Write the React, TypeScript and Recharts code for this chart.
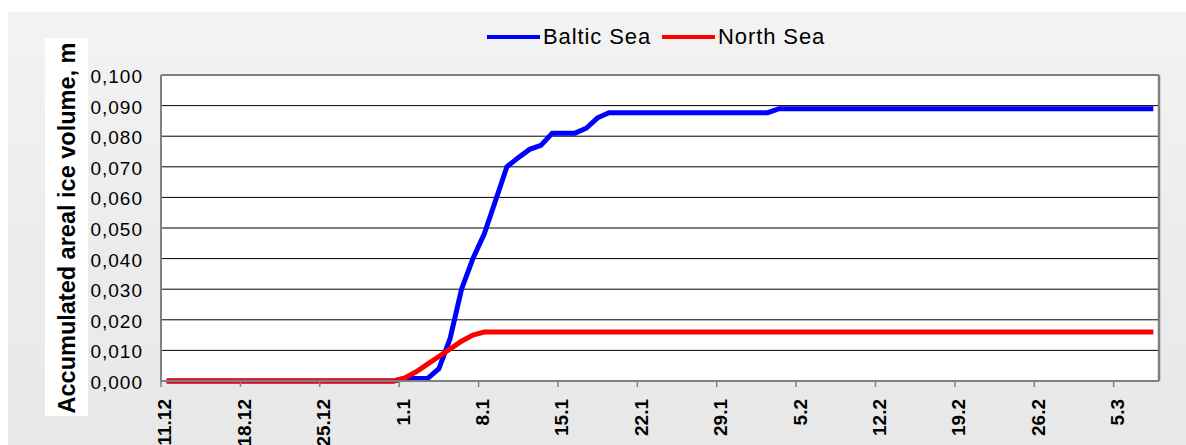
import React from "react"
import {
  LineChart,
  Line,
  XAxis,
  YAxis,
  CartesianGrid,
  ReferenceLine,
} from "recharts"

// one category per day, 11.12 .. 8.3
const dates = [
  "11.12", "12.12", "13.12", "14.12", "15.12", "16.12", "17.12", "18.12", "19.12", "20.12",
  "21.12", "22.12", "23.12", "24.12", "25.12", "26.12", "27.12", "28.12", "29.12", "30.12", "31.12",
  "1.1", "2.1", "3.1", "4.1", "5.1", "6.1", "7.1", "8.1", "9.1", "10.1",
  "11.1", "12.1", "13.1", "14.1", "15.1", "16.1", "17.1", "18.1", "19.1", "20.1",
  "21.1", "22.1", "23.1", "24.1", "25.1", "26.1", "27.1", "28.1", "29.1", "30.1", "31.1",
  "1.2", "2.2", "3.2", "4.2", "5.2", "6.2", "7.2", "8.2", "9.2", "10.2",
  "11.2", "12.2", "13.2", "14.2", "15.2", "16.2", "17.2", "18.2", "19.2", "20.2",
  "21.2", "22.2", "23.2", "24.2", "25.2", "26.2", "27.2", "28.2",
  "1.3", "2.3", "3.3", "4.3", "5.3", "6.3", "7.3", "8.3",
]

const baltic = [
  0, 0, 0, 0, 0, 0, 0, 0, 0, 0, 0, 0, 0, 0, 0, 0, 0, 0, 0, 0, 0,
  0.0008, 0.0008, 0.0008, 0.004, 0.014, 0.03, 0.04, 0.048, 0.059, 0.07,
  0.073, 0.0757, 0.077, 0.081, 0.081, 0.081, 0.0826, 0.086, 0.0877,
  0.0877, 0.0877, 0.0877, 0.0877, 0.0877, 0.0877, 0.0877, 0.0877, 0.0877, 0.0877,
  0.0877, 0.0877, 0.0877, 0.0877,
  0.089, 0.089, 0.089, 0.089, 0.089, 0.089, 0.089, 0.089, 0.089, 0.089,
  0.089, 0.089, 0.089, 0.089, 0.089, 0.089, 0.089, 0.089, 0.089, 0.089,
  0.089, 0.089, 0.089, 0.089, 0.089, 0.089, 0.089, 0.089, 0.089, 0.089,
  0.089, 0.089, 0.089, 0.089,
]

const north = [
  0, 0, 0, 0, 0, 0, 0, 0, 0, 0, 0, 0, 0, 0, 0, 0, 0, 0, 0, 0, 0,
  0.001, 0.003, 0.0055, 0.008, 0.0105, 0.013, 0.015,
  0.016, 0.016, 0.016, 0.016, 0.016, 0.016, 0.016, 0.016, 0.016, 0.016,
  0.016, 0.016, 0.016, 0.016, 0.016, 0.016, 0.016, 0.016, 0.016, 0.016,
  0.016, 0.016, 0.016, 0.016, 0.016, 0.016, 0.016, 0.016, 0.016, 0.016,
  0.016, 0.016, 0.016, 0.016, 0.016, 0.016, 0.016, 0.016, 0.016, 0.016,
  0.016, 0.016, 0.016, 0.016, 0.016, 0.016, 0.016, 0.016, 0.016, 0.016,
  0.016, 0.016, 0.016, 0.016, 0.016, 0.016, 0.016, 0.016, 0.016, 0.016,
]

const yTicks = [0, 0.01, 0.02, 0.03, 0.04, 0.05, 0.06, 0.07, 0.08, 0.09, 0.1]
// weekly ticks sit on the category boundaries
const xTicks = [-0.5, 6.5, 13.5, 20.5, 27.5, 34.5, 41.5, 48.5, 55.5, 62.5, 69.5, 76.5, 83.5]

const series = [
  { key: "baltic", name: "Baltic Sea", color: "#0000ff" },
  { key: "north", name: "North Sea", color: "#ff0000" },
]

const FONT = "'Liberation Sans', Arial, sans-serif"

const chartData = dates.map((d, i) => ({
  i,
  date: d,
  baltic: baltic[i],
  north: north[i],
}))

function XTick(props: any) {
  const { x, y, payload } = props
  const label = dates[Math.round(payload.value + 0.5)]
  return (
    <text
      x={x}
      y={y}
      transform={`rotate(-90, ${x}, ${y})`}
      textAnchor="end"
      dy="0.55em"
      fontFamily={FONT}
      fontWeight="bold"
      fontSize={19}
      fill="#000"
    >
      {label}
    </text>
  )
}

function YTick(props: any) {
  const { x, y, payload } = props
  return (
    <text
      x={x}
      y={y}
      textAnchor="end"
      dy="0.42em"
      fontFamily={FONT}
      fontSize={19}
      letterSpacing={1}
      fill="#000"
    >
      {payload.value.toFixed(3).replace(".", ",")}
    </text>
  )
}

export default function App() {
  return (
    <div style={{ position: "relative", width: 1186, height: 445, overflow: "hidden", background: "#fff" }}>
      <style>{`body{margin:0;overflow:hidden}`}</style>
      {/* gray chart area */}
      <div
        style={{
          position: "absolute",
          left: 8,
          top: 12,
          width: 1178,
          height: 433,
          background: "linear-gradient(180deg, #f3f3f3 0%, #ececec 55%, #e8e8e8 100%)",
        }}
      />
      {/* y axis title box */}
      <div
        style={{
          position: "absolute",
          left: 45,
          top: 38,
          width: 43,
          height: 378,
          background: "#fff",
        }}
      />
      <div style={{ position: "absolute", left: 67, top: 228, width: 0, height: 0 }}>
        <div
          style={{
            position: "absolute",
            left: 0,
            top: 0,
            transform: "translate(-50%, -50%) rotate(-90deg)",
            whiteSpace: "nowrap",
            fontFamily: FONT,
            fontWeight: "bold",
            fontSize: 23.5,
            color: "#000",
          }}
        >
          Accumulated areal ice volume, m
        </div>
      </div>
      {/* legend */}
      <div
        style={{
          position: "absolute",
          left: 487,
          top: 24,
          display: "flex",
          alignItems: "center",
          fontFamily: FONT,
          fontSize: 22,
          letterSpacing: 0.9,
          color: "#000",
        }}
      >
        {series.map((s) => (
          <div key={s.key} style={{ display: "flex", alignItems: "center", marginRight: 11 }}>
            <span style={{ display: "inline-block", width: 53, height: 4, background: s.color, marginRight: 3 }} />
            <span>{s.name}</span>
          </div>
        ))}
      </div>
      <div style={{ position: "absolute", left: 0, top: 0 }}>
        <LineChart
          width={1186}
          height={445}
          data={chartData}
          margin={{ top: 75, right: 27, bottom: 0, left: 0 }}
        >
          <CartesianGrid vertical={false} stroke="#000" strokeWidth={1} fill="#fff" />
          <XAxis
            dataKey="i"
            type="number"
            domain={[-0.5, 87.5]}
            ticks={xTicks}
            interval={0}
            height={64}
            tickSize={6}
            tickMargin={12}
            tick={<XTick />}
            axisLine={{ stroke: "#808080", strokeWidth: 2 }}
            tickLine={{ stroke: "#808080", strokeWidth: 1.5 }}
            allowDecimals
          />
          <YAxis
            type="number"
            domain={[0, 0.1]}
            ticks={yTicks}
            interval={0}
            width={161}
            tickSize={0}
            tickMargin={18}
            tick={<YTick />}
            axisLine={{ stroke: "#808080", strokeWidth: 2 }}
            tickLine={false}
          />
          <ReferenceLine y={0.1} stroke="#808080" strokeWidth={2} />
          <ReferenceLine x={87.5} stroke="#808080" strokeWidth={2.5} />
          {series.map((s) => (
            <Line
              key={s.key}
              type="linear"
              dataKey={s.key}
              name={s.name}
              stroke={s.color}
              strokeWidth={5}
              dot={false}
              activeDot={false}
              isAnimationActive={false}
            />
          ))}
        </LineChart>
      </div>
    </div>
  )
}
